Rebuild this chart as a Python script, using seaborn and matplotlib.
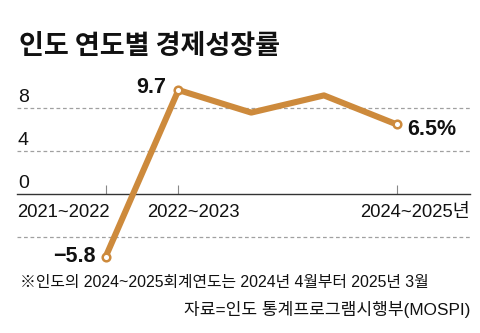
import matplotlib
matplotlib.use("Agg")
import matplotlib.pyplot as plt
import matplotlib.transforms as mtransforms
from matplotlib import font_manager
import seaborn as sns
import pandas as pd

# ---- data ----
period_index = [0, 1, 2, 3, 4]
growth = [-5.8, 9.7, 7.6, 9.2, 6.5]
marked_points = [0, 1, 4]
point_labels = ["−5.8", "9.7", "6.5%"]
tick_positions = [0, 1, 4]
tick_labels = ["2021~2022", "2022~2023", "2024~2025년"]
ytick_values = [8, 4, 0]
grid_values = [8, 4, -4]
title = "인도 연도별 경제성장률"
note = "※인도의 2024~2025회계연도는 2024년 4월부터 2025년 3월"
source = "자료=인도 통계프로그램시행부(MOSPI)"

sns.set_theme(style="white")
names = {f.name for f in font_manager.fontManager.ttflist}
narrow = "Liberation Sans Narrow" if "Liberation Sans Narrow" in names else "Liberation Sans"
fam = [narrow, "Noto Sans CJK KR", "DejaVu Sans"]
plt.rcParams["font.family"] = fam
plt.rcParams["axes.unicode_minus"] = True

COLOR = "#CD8A3C"
W, H, DPI = 480, 333, 100
fig = plt.figure(figsize=(W / DPI, H / DPI), dpi=DPI)
fig.patch.set_facecolor("white")

# axes placement (pixels)
ax_left, ax_right = 17.3, 470
ax_top, ax_bottom = 70, 270
ax = fig.add_axes([ax_left / W, 1 - ax_bottom / H, (ax_right - ax_left) / W, (ax_bottom - ax_top) / H])
ax.set_facecolor("none")

px_per_x = 72.75
x0_px = 105.7
ax.set_xlim((ax_left - x0_px) / px_per_x, (ax_right - x0_px) / px_per_x)
px_per_y = 10.75
y0_px = 194.3
ax.set_ylim((y0_px - ax_bottom) / px_per_y, (y0_px - ax_top) / px_per_y)

for v in grid_values:
    ax.axhline(v, color="#a0a0a0", lw=0.9, ls=(0, (3, 2.2)), zorder=1)

for s in ["top", "right", "left"]:
    ax.spines[s].set_visible(False)
ax.spines["bottom"].set_position(("data", 0))
ax.spines["bottom"].set_color("#333333")
ax.spines["bottom"].set_linewidth(1.0)
ax.set_xticks(tick_positions)
ax.set_xticklabels([])
ax.set_yticks([])
ax.tick_params(axis="x", direction="in", length=6.5, width=0.8, color="#888888", bottom=True)

df = pd.DataFrame({"x": period_index, "y": growth})
sns.lineplot(data=df, x="x", y="y", color=COLOR, lw=4.4, ax=ax, zorder=3,
             solid_joinstyle="round", solid_capstyle="round")
dm = df.iloc[marked_points]
sns.scatterplot(data=dm, x="x", y="y", s=30, color="white", edgecolor=COLOR,
                linewidth=1.8, ax=ax, zorder=4)
ax.set_xlabel("")
ax.set_ylabel("")

# point labels
offsets = [(-7, 0, "right", "center"), (-8.5, 2, "right", "center"), (7.5, -3.5, "left", "center")]
for i, lab, (dx, dy, ha, va) in zip(marked_points, point_labels, offsets):
    ax.annotate(lab, (period_index[i], growth[i]), xytext=(dx, dy), textcoords="offset points",
                ha=ha, va=va, fontsize=15.5, fontweight="bold", color="#111111", zorder=5)

# y labels
trans_y = mtransforms.blended_transform_factory(ax.transAxes, ax.transData)
for v in ytick_values:
    ax.annotate(str(v), (0, v), xycoords=trans_y, xytext=(0.5, 4.5), textcoords="offset points",
                ha="left", va="baseline", fontsize=14, color="#111111")

# x labels
x_off = [(3.1, "right"), (-22.3, "left"), (52.8, "right")]
for p, lab, (dx, ha) in zip(tick_positions, tick_labels, x_off):
    ax.annotate(lab, (p, 0), xytext=(dx, -13), textcoords="offset points",
                ha=ha, va="center", fontsize=13.3, color="#111111")

fig.text(19 / W, 1 - 46 / H, title, fontsize=19.5, fontweight="bold",
         family=["Noto Sans CJK KR"], ha="left", va="center", color="#111111")
fig.text(20 / W, 1 - 282 / H, note, fontsize=11.4, ha="left", va="center", color="#111111")
fig.text(470 / W, 1 - 309 / H, source, fontsize=12.3, ha="right", va="center", color="#111111")

fig.savefig("out.png", dpi=DPI, facecolor="white")
